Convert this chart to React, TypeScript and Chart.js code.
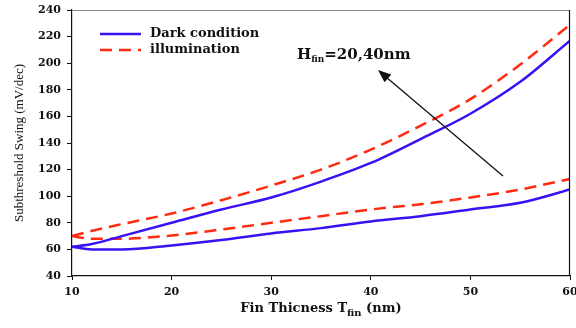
import React, { useEffect, useRef } from "react";
import { Chart, registerables } from "chart.js";

Chart.register(...registerables);

const thickness = [10, 12, 15, 20, 25, 30, 35, 40, 45, 50, 55, 60];
const darkHigh = [62, 64, 70, 80, 90, 99, 111, 125, 143, 162, 186, 217];
const illumHigh = [70, 74, 79, 87, 97, 108, 120, 135, 153, 173, 199, 229];
const darkLow = [62, 60, 60, 63, 67, 72, 76, 81, 85, 90, 95, 105];
const illumLow = [70, 68, 68, 70.5, 75, 80, 85, 90, 94, 99, 105, 113];
const legendLabels = ["Dark condition", "illumination"];
const xTicks = [10, 20, 30, 40, 50, 60];

const BLUE = "#3a10f5";
const RED = "#ff2a10";
const SERIF = "'Liberation Serif', 'DejaVu Serif', serif";
const WIDE = "'DejaVu Serif', serif";

const toPts = (ys: number[]) => thickness.map((x, i) => ({ x, y: ys[i] }));

const decor = {
  id: "decor",
  afterDraw(chart: any) {
    const { ctx, chartArea } = chart;
    const { left, right, top, bottom } = chartArea;
    ctx.save();
    // frame top & right
    ctx.strokeStyle = "#8a8a8a";
    ctx.lineWidth = 1.2;
    ctx.beginPath();
    ctx.moveTo(left, top + 0.5);
    ctx.lineTo(right, top + 0.5);
    ctx.stroke();
    ctx.strokeStyle = "#111";
    ctx.beginPath();
    ctx.moveTo(right - 0.5, top);
    ctx.lineTo(right - 0.5, bottom);
    ctx.stroke();

    // legend
    const lx0 = 100, lx1 = 141, tx = 150;
    const ys = [34, 50];
    ctx.lineWidth = 2.5;
    ctx.strokeStyle = BLUE;
    ctx.setLineDash([]);
    ctx.beginPath();
    ctx.moveTo(lx0, ys[0]);
    ctx.lineTo(lx1, ys[0]);
    ctx.stroke();
    ctx.strokeStyle = RED;
    ctx.setLineDash([12, 7]);
    ctx.beginPath();
    ctx.moveTo(lx0, ys[1]);
    ctx.lineTo(lx1, ys[1]);
    ctx.stroke();
    ctx.setLineDash([]);
    ctx.fillStyle = "#111";
    ctx.font = `bold 13px ${WIDE}`;
    ctx.textBaseline = "middle";
    ctx.textAlign = "left";
    ctx.fillText(legendLabels[0], tx, ys[0]);
    ctx.fillText(legendLabels[1], tx, ys[1]);

    // annotation text
    ctx.textBaseline = "alphabetic";
    let x = 297;
    const by = 59;
    ctx.font = `bold 15px ${WIDE}`;
    ctx.fillText("H", x, by);
    x += ctx.measureText("H").width;
    ctx.font = `bold 9px ${WIDE}`;
    ctx.fillText("fin", x, by + 3);
    x += ctx.measureText("fin").width;
    ctx.font = `bold 15px ${WIDE}`;
    ctx.fillText("=20,40nm", x, by);

    // arrow
    const ax0 = 503, ay0 = 176, ax1 = 378, ay1 = 70;
    ctx.strokeStyle = "#111";
    ctx.lineWidth = 1.3;
    ctx.beginPath();
    ctx.moveTo(ax0, ay0);
    ctx.lineTo(ax1 + 8, ay1 + 7);
    ctx.stroke();
    const ang = Math.atan2(ay1 - ay0, ax1 - ax0);
    const hl = 14, hw = 0.38;
    ctx.fillStyle = "#111";
    ctx.beginPath();
    ctx.moveTo(ax1, ay1);
    ctx.lineTo(ax1 - hl * Math.cos(ang - hw), ay1 - hl * Math.sin(ang - hw));
    ctx.lineTo(ax1 - hl * Math.cos(ang + hw), ay1 - hl * Math.sin(ang + hw));
    ctx.closePath();
    ctx.fill();

    // x axis title
    const cx = (left + right) / 2;
    const ty = 312;
    const p1 = "Fin Thicness T";
    const p2 = "fin";
    const p3 = " (nm)";
    ctx.font = `bold 13px ${WIDE}`;
    const w1 = ctx.measureText(p1).width;
    const w3 = ctx.measureText(p3).width;
    ctx.font = `bold 10px ${WIDE}`;
    const w2 = ctx.measureText(p2).width;
    let sx = cx - (w1 + w2 + w3) / 2;
    ctx.fillStyle = "#111";
    ctx.font = `bold 13px ${WIDE}`;
    ctx.fillText(p1, sx, ty);
    sx += w1;
    ctx.font = `bold 10px ${WIDE}`;
    ctx.fillText(p2, sx, ty + 4);
    sx += w2;
    ctx.font = `bold 13px ${WIDE}`;
    ctx.fillText(p3, sx, ty);

    // y axis title
    ctx.save();
    ctx.translate(20, (top + bottom) / 2);
    ctx.rotate(-Math.PI / 2);
    ctx.textAlign = "center";
    ctx.textBaseline = "middle";
    ctx.font = `13px ${SERIF}`;
    ctx.fillText("Subthreshold Swing (mV/dec)", 0, 0);
    ctx.restore();

    ctx.restore();
  },
};

export default function App() {
  const ref = useRef<HTMLCanvasElement>(null);
  useEffect(() => {
    if (!ref.current) return;
    const mk = (label: string, ys: number[], color: string, dashed: boolean) => ({
      label,
      data: toPts(ys),
      borderColor: color,
      backgroundColor: color,
      borderWidth: 2.5,
      borderDash: dashed ? [12, 7] : [],
      pointRadius: 0,
      cubicInterpolationMode: "monotone" as const,
      fill: false,
    });
    const chart = new Chart(ref.current, {
      type: "line",
      data: {
        datasets: [
          mk("Dark condition", darkHigh, BLUE, false),
          mk("illumination", illumHigh, RED, true),
          mk("Dark condition", darkLow, BLUE, false),
          mk("illumination", illumLow, RED, true),
        ],
      },
      options: {
        animation: false,
        responsive: false,
        layout: { padding: { left: 0, right: 6, top: 10, bottom: 0 } },
        plugins: { legend: { display: false }, tooltip: { enabled: false } },
        scales: {
          x: {
            type: "linear",
            min: 10,
            max: 60,
            afterBuildTicks: (s: any) => {
              s.ticks = xTicks.map((v) => ({ value: v }));
            },
            afterFit: (s: any) => {
              s.height = 52;
              s.paddingRight = 0;
              s.paddingLeft = 0;
            },
            grid: { display: true, drawOnChartArea: false, drawTicks: true, tickLength: 4, color: "#111" },
            border: { display: true, color: "#111", width: 1.2 },
            ticks: {
              color: "#111",
              font: { family: WIDE, size: 11, weight: "bold" },
              padding: 6,
              maxRotation: 0,
            },
          },
          y: {
            min: 40,
            max: 240,
            afterFit: (s: any) => {
              s.width = 72;
              s.paddingTop = 0;
              s.paddingBottom = 0;
            },
            grid: { display: true, drawOnChartArea: false, drawTicks: true, tickLength: 5, color: "#111" },
            border: { display: true, color: "#111", width: 1.2 },
            ticks: {
              stepSize: 20,
              color: "#111",
              font: { family: WIDE, size: 11, weight: "bold" },
              padding: 6,
            },
          },
        },
      },
      plugins: [decor],
    });
    return () => chart.destroy();
  }, []);
  return (
    <div style={{ position: "fixed", left: 0, top: 0, width: 576, height: 328, background: "#fff" }}>
      <canvas ref={ref} width={576} height={328} style={{ width: 576, height: 328 }} />
    </div>
  );
}
